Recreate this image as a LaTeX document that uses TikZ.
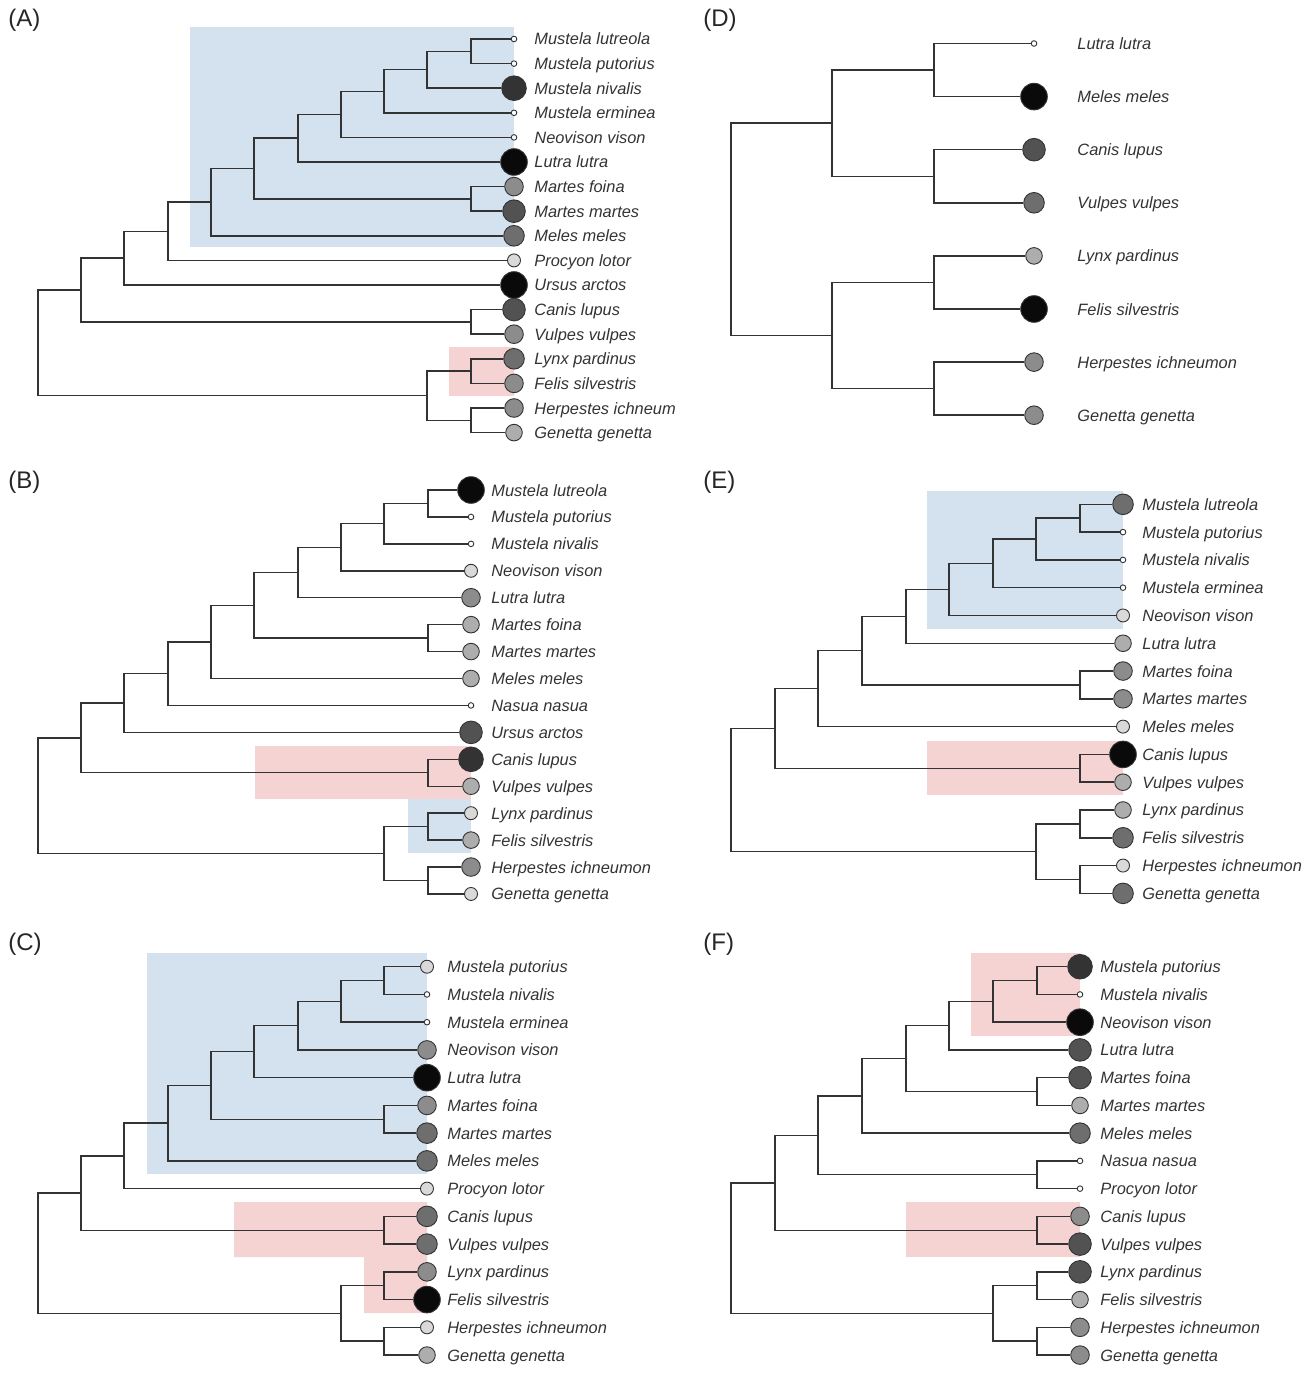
\documentclass[tikz,border=0pt]{standalone}
\usepackage{fontspec}
\setmainfont{Liberation Sans}
\usetikzlibrary{calc}
\definecolor{hlblue}{HTML}{D3E2EE}
\definecolor{hlred}{HTML}{F6D3D3}
\tikzset{
  br/.style={draw=black!80,line width=.72pt},
  sp/.style={anchor=west,inner sep=0pt,text height=6.2pt,text depth=.2pt,
    font=\fontsize{8.2}{9}\selectfont\itshape,text=black!80},
  lab/.style={anchor=west,inner sep=0pt,font=\fontsize{12}{13}\selectfont,text=black!85},
  tip/.code={\pgfkeysalso{circle,draw=black!80,line width=.45pt,inner sep=0pt}%
    \ifcase#1\relax \pgfkeysalso{fill=white,minimum size=2.8pt}%
    \or \pgfkeysalso{fill=black!15,minimum size=6.5pt}%
    \or \pgfkeysalso{fill=black!32,minimum size=8.3pt}%
    \or \pgfkeysalso{fill=black!45,minimum size=9.3pt}%
    \or \pgfkeysalso{fill=black!57,minimum size=10.3pt}%
    \or \pgfkeysalso{fill=black!68,minimum size=11.3pt}%
    \or \pgfkeysalso{fill=black!80,minimum size=12.3pt}%
    \or \pgfkeysalso{fill=black!96,minimum size=13.3pt}%
    \fi}
}
\newcommand\clade[4]{%
  \coordinate (mid) at ($(#3)!.5!(#4)$);
  \coordinate (#1) at (#2,0 |- mid);
  \draw[br] (#3) -| (#1) |- (#4);}
\begin{document}
\begin{tikzpicture}[x=0.5pt,y=-0.5pt]
\useasboundingbox (0,0) rectangle (1306,1374);
% (A)
\fill[hlblue] (190,27) rectangle (514,247);
\fill[hlred] (449,347) rectangle (514,396);
\node[lab] (labA) at (8,20) {(A)};
\foreach \lv/\txt [count=\i] in {0/Mustela lutreola,0/Mustela putorius,6/Mustela nivalis,
  0/Mustela erminea,0/Neovison vison,7/Lutra lutra,3/Martes foina,5/Martes martes,
  4/Meles meles,1/Procyon lotor,7/Ursus arctos,5/Canis lupus,3/Vulpes vulpes,
  4/Lynx pardinus,3/Felis silvestris,3/Herpestes ichneum,2/Genetta genetta}{
  \node[tip=\lv] (a\i) at (514,{39+24.6*(\i-1)}) {};
  \node[sp] (la\i) at (534,{39+24.6*(\i-1)}) {\txt};
}
\clade{aA}{471}{a1}{a2}
\clade{aB}{427}{aA}{a3}
\clade{aC}{384}{aB}{a4}
\clade{aD}{341}{aC}{a5}
\clade{aE}{298}{aD}{a6}
\clade{aF}{471}{a7}{a8}
\clade{aG}{254}{aE}{aF}
\clade{aH}{211}{aG}{a9}
\clade{aI}{168}{aH}{a10}
\clade{aJ}{124}{aI}{a11}
\clade{aK}{471}{a12}{a13}
\clade{aL}{81}{aJ}{aK}
\clade{aM}{471}{a14}{a15}
\clade{aN}{471}{a16}{a17}
\clade{aO}{427}{aM}{aN}
\clade{aP}{38}{aL}{aO}
% (B)
\fill[hlred] (255,746) rectangle (471,799);
\fill[hlblue] (408,799) rectangle (471,853);
\node[lab] (labB) at (8,482) {(B)};
\foreach \lv/\txt [count=\i] in {7/Mustela lutreola,0/Mustela putorius,0/Mustela nivalis,
  1/Neovison vison,3/Lutra lutra,2/Martes foina,2/Martes martes,2/Meles meles,
  0/Nasua nasua,5/Ursus arctos,6/Canis lupus,2/Vulpes vulpes,1/Lynx pardinus,
  2/Felis silvestris,3/Herpestes ichneumon,1/Genetta genetta}{
  \node[tip=\lv] (b\i) at (471,{490+26.93*(\i-1)}) {};
  \node[sp] (lb\i) at (491,{490+26.93*(\i-1)}) {\txt};
}
\clade{bA}{428}{b1}{b2}
\clade{bB}{384}{bA}{b3}
\clade{bC}{341}{bB}{b4}
\clade{bD}{298}{bC}{b5}
\clade{bE}{428}{b6}{b7}
\clade{bF}{254}{bD}{bE}
\clade{bG}{211}{bF}{b8}
\clade{bH}{168}{bG}{b9}
\clade{bI}{124}{bH}{b10}
\clade{bJ}{428}{b11}{b12}
\clade{bK}{81}{bI}{bJ}
\clade{bL}{428}{b13}{b14}
\clade{bM}{428}{b15}{b16}
\clade{bN}{384}{bL}{bM}
\clade{bO}{38}{bK}{bN}
% (C)
\fill[hlblue] (147,953) rectangle (427,1174);
\fill[hlred] (234,1202) -- (427,1202) -- (427,1313) -- (364,1313) -- (364,1257) -- (234,1257) -- cycle;
\node[lab] (labC) at (8,944) {(C)};
\foreach \lv/\txt [count=\i] in {1/Mustela putorius,0/Mustela nivalis,0/Mustela erminea,
  3/Neovison vison,7/Lutra lutra,3/Martes foina,4/Martes martes,4/Meles meles,
  1/Procyon lotor,4/Canis lupus,4/Vulpes vulpes,3/Lynx pardinus,7/Felis silvestris,
  1/Herpestes ichneumon,2/Genetta genetta}{
  \node[tip=\lv] (c\i) at (427,{966.7+27.74*(\i-1)}) {};
  \node[sp] (lc\i) at (447,{966.7+27.74*(\i-1)}) {\txt};
}
\clade{cA}{384}{c1}{c2}
\clade{cB}{341}{cA}{c3}
\clade{cC}{298}{cB}{c4}
\clade{cD}{254}{cC}{c5}
\clade{cE}{384}{c6}{c7}
\clade{cF}{211}{cD}{cE}
\clade{cG}{168}{cF}{c8}
\clade{cH}{124}{cG}{c9}
\clade{cI}{384}{c10}{c11}
\clade{cJ}{81}{cH}{cI}
\clade{cK}{384}{c12}{c13}
\clade{cL}{384}{c14}{c15}
\clade{cM}{341}{cK}{cL}
\clade{cN}{38}{cJ}{cM}
% (D)
\node[lab] (labD) at (703,20) {(D)};
\foreach \lv/\txt [count=\i] in {0/Lutra lutra,7/Meles meles,5/Canis lupus,4/Vulpes vulpes,
  2/Lynx pardinus,7/Felis silvestris,3/Herpestes ichneumon,3/Genetta genetta}{
  \node[tip=\lv] (d\i) at (1034,{43.5+53.1*(\i-1)}) {};
  \node[sp] (ld\i) at (1077,{43.5+53.1*(\i-1)}) {\txt};
}
\clade{dA}{934}{d1}{d2}
\clade{dB}{934}{d3}{d4}
\clade{dC}{832}{dA}{dB}
\clade{dD}{934}{d5}{d6}
\clade{dE}{934}{d7}{d8}
\clade{dF}{832}{dD}{dE}
\clade{dG}{731}{dC}{dF}
% (E)
\fill[hlblue] (927,491) rectangle (1123,629);
\fill[hlred] (927,741) rectangle (1123,795);
\node[lab] (labE) at (703,482) {(E)};
\foreach \lv/\txt [count=\i] in {4/Mustela lutreola,0/Mustela putorius,0/Mustela nivalis,
  0/Mustela erminea,1/Neovison vison,2/Lutra lutra,3/Martes foina,3/Martes martes,
  1/Meles meles,7/Canis lupus,2/Vulpes vulpes,2/Lynx pardinus,4/Felis silvestris,
  1/Herpestes ichneumon,4/Genetta genetta}{
  \node[tip=\lv] (e\i) at (1123,{504.3+27.79*(\i-1)}) {};
  \node[sp] (le\i) at (1142,{504.3+27.79*(\i-1)}) {\txt};
}
\clade{eA}{1080}{e1}{e2}
\clade{eB}{1036}{eA}{e3}
\clade{eC}{993}{eB}{e4}
\clade{eD}{949}{eC}{e5}
\clade{eE}{906}{eD}{e6}
\clade{eF}{1080}{e7}{e8}
\clade{eG}{862}{eE}{eF}
\clade{eH}{818}{eG}{e9}
\clade{eI}{1080}{e10}{e11}
\clade{eJ}{775}{eH}{eI}
\clade{eK}{1080}{e12}{e13}
\clade{eL}{1080}{e14}{e15}
\clade{eM}{1036}{eK}{eL}
\clade{eN}{731}{eJ}{eM}
% (F)
\fill[hlred] (971,953) rectangle (1080,1036);
\fill[hlred] (906,1202) rectangle (1080,1257);
\node[lab] (labF) at (703,944) {(F)};
\foreach \lv/\txt [count=\i] in {6/Mustela putorius,0/Mustela nivalis,7/Neovison vison,
  5/Lutra lutra,5/Martes foina,2/Martes martes,4/Meles meles,0/Nasua nasua,
  0/Procyon lotor,3/Canis lupus,5/Vulpes vulpes,5/Lynx pardinus,2/Felis silvestris,
  3/Herpestes ichneumon,3/Genetta genetta}{
  \node[tip=\lv] (f\i) at (1080,{966.7+27.74*(\i-1)}) {};
  \node[sp] (lf\i) at (1100,{966.7+27.74*(\i-1)}) {\txt};
}
\clade{fA}{1037}{f1}{f2}
\clade{fB}{993}{fA}{f3}
\clade{fC}{949}{fB}{f4}
\clade{fD}{1037}{f5}{f6}
\clade{fE}{906}{fC}{fD}
\clade{fF}{862}{fE}{f7}
\clade{fG}{1037}{f8}{f9}
\clade{fH}{818}{fF}{fG}
\clade{fI}{1037}{f10}{f11}
\clade{fJ}{775}{fH}{fI}
\clade{fK}{1037}{f12}{f13}
\clade{fL}{1037}{f14}{f15}
\clade{fM}{993}{fK}{fL}
\clade{fN}{731}{fJ}{fM}
\end{tikzpicture}
\end{document}
